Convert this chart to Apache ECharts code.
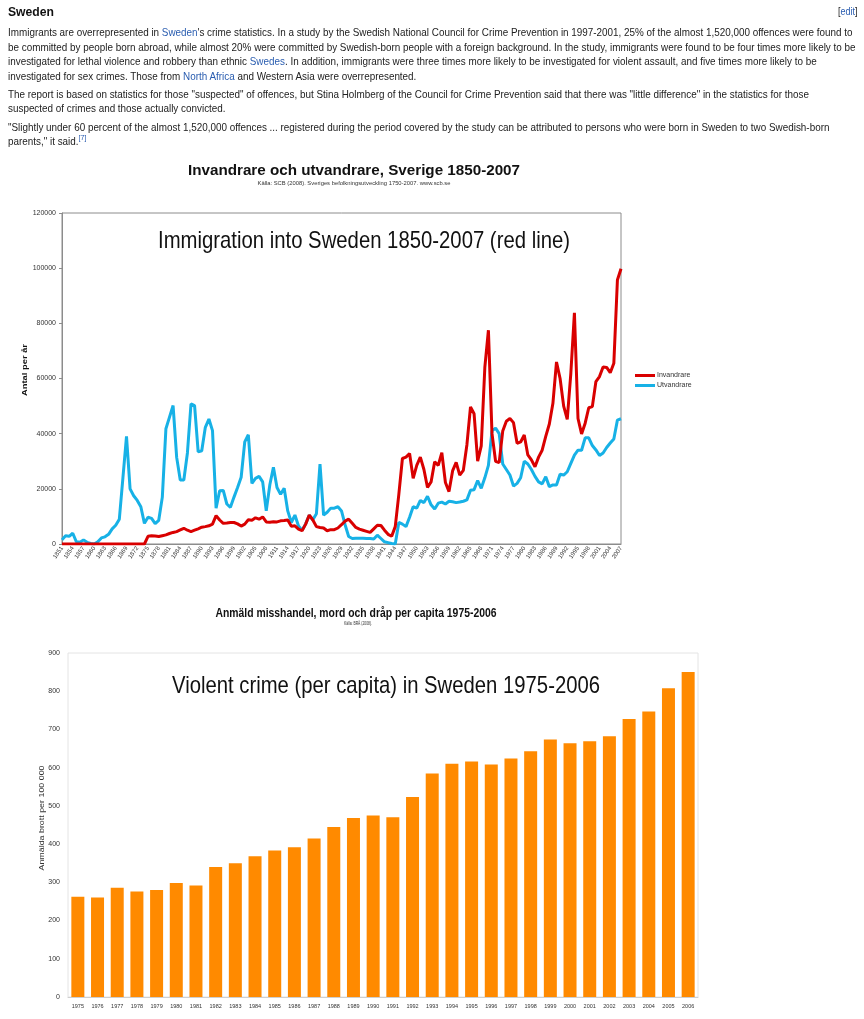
<!DOCTYPE html>
<html>
<head>
<meta charset="utf-8">
<script src="https://cdn.jsdelivr.net/npm/echarts@6/dist/echarts.min.js"></script>
<style>
  html, body { margin: 0; padding: 0; background: #fff; }
  #page { position: relative; width: 864px; height: 1019px; overflow: hidden; }
  #chart { position: absolute; left: 0; top: 0; width: 864px; height: 1019px; }
  .txt {
    position: absolute; left: 8px; white-space: nowrap;
    font-family: "Liberation Sans", Arial, sans-serif; font-size: 11px; line-height: 14px;
    color: #222; transform-origin: 0 0;
  }
  .txt a { color: #2a5db0; text-decoration: none; }
  .txt sup { font-size: 8px; line-height: 0; }
  #heading { font-size: 13px; font-weight: bold; color: #111; top: 5px; }
  #edit { left: 838px; font-size: 10px; top: 5px; }
</style>
</head>
<body>
<div id="page">
  <div id="chart"></div>
  <div class="txt" id="heading">Sweden</div>
  <div class="txt" id="edit">[<a>edit</a>]</div>
  <div class="txt para" style="top:25px">Immigrants are overrepresented in <a>Sweden</a>'s crime statistics. In a study by the Swedish National Council for Crime Prevention in 1997-2001, 25% of the almost 1,520,000 offences were found to</div>
  <div class="txt para" style="top:40px">be committed by people born abroad, while almost 20% were committed by Swedish-born people with a foreign background. In the study, immigrants were found to be four times more likely to be</div>
  <div class="txt para" style="top:54px">investigated for lethal violence and robbery than ethnic <a>Swedes</a>. In addition, immigrants were three times more likely to be investigated for violent assault, and five times more likely to be</div>
  <div class="txt para" style="top:69px">investigated for sex crimes. Those from <a>North Africa</a> and Western Asia were overrepresented.</div>
  <div class="txt para" style="top:87px">The report is based on statistics for those "suspected" of offences, but Stina Holmberg of the Council for Crime Prevention said that there was "little difference" in the statistics for those</div>
  <div class="txt para" style="top:101px">suspected of crimes and those actually convicted.</div>
  <div class="txt para" style="top:120px">"Slightly under 60 percent of the almost 1,520,000 offences ... registered during the period covered by the study can be attributed to persons who were born in Sweden to two Swedish-born</div>
  <div class="txt para" style="top:134px">parents," it said.<sup><a>[7]</a></sup></div>
</div>

<script>
// invandrare (immigration) 1851-2007
const immigration = [
  0, 0, 0, 0, 0, 0, 0, 0, 0, 0,
  0, 0, 0, 0, 0, 0, 0, 0, 0, 0,
  0, 0, 0, 0, 2800, 3000, 2900, 2700, 3000, 3300,
  3800, 4200, 4500, 5100, 5700, 5000, 4500, 5000, 5500, 6100,
  6300, 6600, 7200, 10300, 8700, 7500, 7600, 7800, 7800, 7300,
  6500, 7200, 8800, 8600, 9500, 9000, 9800, 8000, 7900, 8100,
  8000, 8400, 8500, 8700, 6400, 6600, 5400, 4800, 7200, 10500,
  8700, 6300, 6000, 5800, 4800, 5200, 5200, 5800, 7000, 8300,
  9000, 7500, 6000, 5400, 5000, 4600, 4200, 5500, 6800, 6700,
  5000, 3500, 2800, 6300, 18000, 31000, 31500, 32800, 23800, 28500,
  31500, 27000, 20500, 22500, 29800, 28500, 33100, 22300, 19000, 26500,
  29600, 25000, 26700, 36000, 49700, 47200, 30000, 35600, 64000, 77500,
  40000, 30000, 29500, 41000, 44500, 45500, 44000, 36500, 37000, 39500,
  32300, 30500, 28000, 31500, 34000, 39000, 43500, 51000, 66000, 60000,
  50000, 45200, 61900, 83800, 45500, 39900, 43800, 49400, 49800, 58900,
  60700, 64200, 64000, 62100, 65500, 95700, 99800
];
// utvandrare (emigration) 1851-2007
const emigration = [
  1500, 3000, 2800, 3900, 800, 600, 1500, 600, 200, 0,
  800, 2200, 2600, 3500, 5500, 6800, 9000, 24000, 39000, 20000,
  17500, 15800, 13500, 7500, 9700, 9300, 7400, 8600, 17000, 41800,
  46000, 50200, 31400, 23200, 23200, 33000, 50800, 50200, 33400, 33800,
  42300, 45300, 41100, 13000, 19300, 19400, 14500, 13300, 17000, 20500,
  24200, 37000, 39600, 22000, 23800, 24500, 22500, 12000, 21500, 27800,
  20500, 18000, 20200, 12000, 7800, 10500, 6500, 5000, 7300, 10400,
  8800, 11000, 29000, 10500, 11500, 13000, 13000, 13500, 12000, 7000,
  2700, 2000, 2100, 2100, 2100, 2000, 2000, 1800, 3200, 2000,
  800, 500, 200, 0, 7800, 7200, 6300, 9700, 13500, 13000,
  15800, 15000, 17300, 14200, 12700, 14800, 15200, 14500, 15500, 15300,
  15000, 15200, 15500, 16000, 19500, 19700, 23000, 20200, 24000, 28500,
  41000, 42000, 40000, 29000, 27000, 25000, 21000, 22000, 24000, 30000,
  29000, 27000, 24500, 22500, 21800, 24400, 20800, 21400, 21400, 25300,
  25000, 26200, 29200, 32200, 34000, 34000, 38500, 38500, 35700, 34100,
  32100, 33000, 35000, 36600, 38100, 44900, 45400
];
const migYears = [];
for (let y = 1851; y <= 2007; y++) migYears.push(String(y));

// anmälda brott per 100 000, 1975-2006
const crimeYears = ['1975', '1976', '1977', '1978', '1979', '1980', '1981', '1982', '1983', '1984',
  '1985', '1986', '1987', '1988', '1989', '1990', '1991', '1992', '1993', '1994', '1995', '1996',
  '1997', '1998', '1999', '2000', '2001', '2002', '2003', '2004', '2005', '2006'];
const crimeRate = [262, 260, 286, 276, 280, 298, 292, 340, 350, 368, 383, 392, 415, 445, 468, 475,
  470, 523, 585, 610, 616, 608, 624, 643, 674, 664, 669, 682, 727, 747, 808, 850];

const FONT = '"Liberation Sans", Arial, sans-serif';

// squeeze the paragraph lines to the width they have in the screenshot
const paras = document.querySelectorAll('.para');
const s1 = 843 / paras[0].getBoundingClientRect().width;
const s2 = 849 / paras[1].getBoundingClientRect().width;
const paraScale = (s1 + s2) / 2;
paras.forEach(p => { p.style.transform = 'scaleX(' + paraScale + ')'; });
const head = document.getElementById('heading');
head.style.transform = 'scaleX(' + (46 / head.getBoundingClientRect().width) + ')';
document.getElementById('edit').style.transform = 'scaleX(' + paraScale + ')';

const measureCtx = document.createElement('canvas').getContext('2d');
function fitted(text, cx, cy, size, weight, width, color, rotation) {
  measureCtx.font = weight + ' ' + size + 'px ' + FONT;
  const w = measureCtx.measureText(text).width;
  return {
    type: 'text', x: cx, y: cy, rotation: rotation || 0, scaleX: width / w, silent: true, z: 100,
    style: {
      text: text, fill: color, fontSize: size, fontWeight: weight, fontFamily: FONT,
      textAlign: 'center', textVerticalAlign: 'middle', align: 'center', verticalAlign: 'middle'
    }
  };
}

const chart = echarts.init(document.getElementById('chart'));
chart.setOption({
  animation: false,
  textStyle: { fontFamily: FONT },
  legend: {
    data: ['Invandrare', 'Utvandrare'],
    left: 630, top: 367, orient: 'vertical',
    icon: 'rect', itemWidth: 20, itemHeight: 3, itemGap: 3,
    textStyle: { fontSize: 7, color: '#333', padding: [0, 0, 0, -3] }
  },
  grid: [
    { left: 62, top: 213, width: 559, height: 331, show: true, borderColor: '#8c8c8c', borderWidth: 1 },
    { left: 68, top: 653, width: 630, height: 344, show: true, borderColor: '#e4e4e4', borderWidth: 1 }
  ],
  xAxis: [
    {
      type: 'category', gridIndex: 0, data: migYears, boundaryGap: false,
      axisLine: { lineStyle: { color: '#8c8c8c' } },
      axisTick: { show: false },
      axisLabel: { interval: 2, rotate: 55, fontSize: 6, color: '#333', margin: 3 }
    },
    {
      type: 'category', gridIndex: 1, data: crimeYears,
      axisLine: { lineStyle: { color: '#cfcfcf' } },
      axisTick: { length: 3, lineStyle: { color: '#cfcfcf' } },
      axisLabel: { interval: 0, fontSize: 5.5, color: '#333', margin: 6 }
    }
  ],
  yAxis: [
    {
      type: 'value', gridIndex: 0, min: 0, max: 120000, interval: 20000,
      axisLine: { show: true, lineStyle: { color: '#8c8c8c' } },
      axisTick: { show: true, length: 3, lineStyle: { color: '#8c8c8c' } },
      splitLine: { show: false },
      axisLabel: { fontSize: 7, color: '#333', margin: 6, formatter: v => String(v) }
    },
    {
      type: 'value', gridIndex: 1, min: 0, max: 900, interval: 100,
      axisLine: { show: false }, axisTick: { show: false }, splitLine: { show: false },
      axisLabel: { fontSize: 7, color: '#333', margin: 8, formatter: v => String(v) }
    }
  ],
  series: [
    {
      name: 'Utvandrare', type: 'line', xAxisIndex: 0, yAxisIndex: 0, data: emigration,
      showSymbol: false, color: '#17b1e6', lineStyle: { width: 3, color: '#17b1e6' }
    },
    {
      name: 'Invandrare', type: 'line', xAxisIndex: 0, yAxisIndex: 0, data: immigration,
      showSymbol: false, color: '#d90000', lineStyle: { width: 3, color: '#d90000' }
    },
    {
      name: 'Anmäld misshandel', type: 'bar', xAxisIndex: 1, yAxisIndex: 1, data: crimeRate,
      barWidth: 13, itemStyle: { color: '#ff8a00' }
    }
  ],
  graphic: [
    fitted('Invandrare och utvandrare, Sverige 1850-2007', 354, 171, 15, 'bold', 332, '#111'),
    fitted('Källa: SCB (2008). Sveriges befolkningsutveckling 1750-2007. www.scb.se', 354, 183, 5.5, 'normal', 193, '#333'),
    fitted('Immigration into Sweden 1850-2007 (red line)', 364, 241, 24, 'normal', 412, '#111'),
    fitted('Antal per år', 25, 370, 7.5, 'bold', 52, '#111', Math.PI / 2),
    fitted('Anmäld misshandel, mord och dråp per capita 1975-2006', 356, 614, 12, 'bold', 281, '#111'),
    fitted('Källa: BRÅ (2008).', 358, 624, 5, 'normal', 28, '#333'),
    fitted('Violent crime (per capita) in Sweden 1975-2006', 386, 686, 24, 'normal', 428, '#111'),
    fitted('Anmälda brott per 100 000', 42, 818, 7.5, 'normal', 105, '#333', Math.PI / 2)
  ]
});
</script>
</body>
</html>
